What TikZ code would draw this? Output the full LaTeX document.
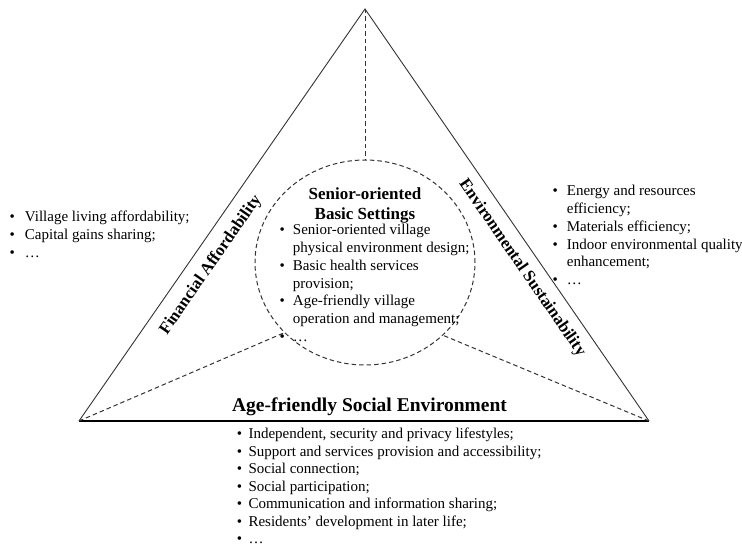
\documentclass[tikz,border=0pt]{standalone}
\usepackage{fontspec}
\setmainfont{Liberation Serif}
\usetikzlibrary{shapes.geometric}
\newcommand{\bullist}[2]{\begin{tabular}[t]{@{}l@{\hspace{#1}}l@{}}#2\end{tabular}}
\begin{document}
\begin{tikzpicture}[x=1pt, y=1pt,
  solidside/.style={line width=0.9pt, black!80},
  dashlink/.style={line width=1pt, black!80, dash pattern=on 4.5pt off 3pt},
  listtxt/.style={inner sep=0pt, anchor=base west, font=\fontsize{15}{17.75}\selectfont},
  headtxt/.style={inner sep=0pt, font=\fontsize{17}{20}\selectfont\bfseries},
  sidetxt/.style={inner sep=0pt, font=\fontsize{16.8}{20}\selectfont\bfseries}]
\useasboundingbox (0,0) rectangle (742,546);
\clip (0,0) rectangle (742,546);
\coordinate (apex) at (365,537);
\coordinate (lcorner) at (79,125);
\coordinate (rcorner) at (649,125);
\node[ellipse, draw, dashlink, minimum width=220pt, minimum height=205pt, inner sep=0pt] (basic) at (365,283.5) {};
\draw[solidside] (lcorner) -- (apex) -- (rcorner);
\draw[solidside, line width=1.2pt, black] (lcorner) -- (rcorner);
\draw[dashlink] (apex) -- (basic.north);
\draw[dashlink] (lcorner) -- (basic.221);
\draw[dashlink] (rcorner) -- (basic.317);
\node[headtxt, align=center] (basichead) at (365,341) {Senior-oriented\\Basic Settings};
\node[listtxt] (basiclist) at (279.5,311) {\bullist{8pt}{\textbullet & Senior-oriented village\\ & physical environment design;\\ \textbullet & Basic health services\\ & provision;\\ \textbullet & Age-friendly village\\ & operation and management;\\ \textbullet & …}};
\node[sidetxt, rotate=55.2] (finlabel) at (211,281) {Financial Affordability};
\node[listtxt] (finlist) at (9.5,324) {\bullist{10pt}{\textbullet & Village living affordability;\\ \textbullet & Capital gains sharing;\\ \textbullet & …}};
\node[sidetxt, rotate=-55.4] (envlabel) at (522,278) {Environmental Sustainability};
\node[listtxt] (envlist) at (552.4,350) {\bullist{9pt}{\textbullet & Energy and resources\\ & efficiency;\\ \textbullet & Materials efficiency;\\ \textbullet & Indoor environmental quality\\ & enhancement;\\ \textbullet & …}};
\node[headtxt, font=\fontsize{19.5}{23}\selectfont\bfseries, anchor=base] (sochead) at (369.5,134) {Age-friendly Social Environment};
\node[listtxt, font=\fontsize{15}{17.5}\selectfont] (soclist) at (236.6,107) {\bullist{6.5pt}{\textbullet & Independent, security and privacy lifestyles;\\ \textbullet & Support and services provision and accessibility;\\ \textbullet & Social connection;\\ \textbullet & Social participation;\\ \textbullet & Communication and information sharing;\\ \textbullet & Residents’ development in later life;\\ \textbullet & …}};

\end{tikzpicture}
\end{document}
